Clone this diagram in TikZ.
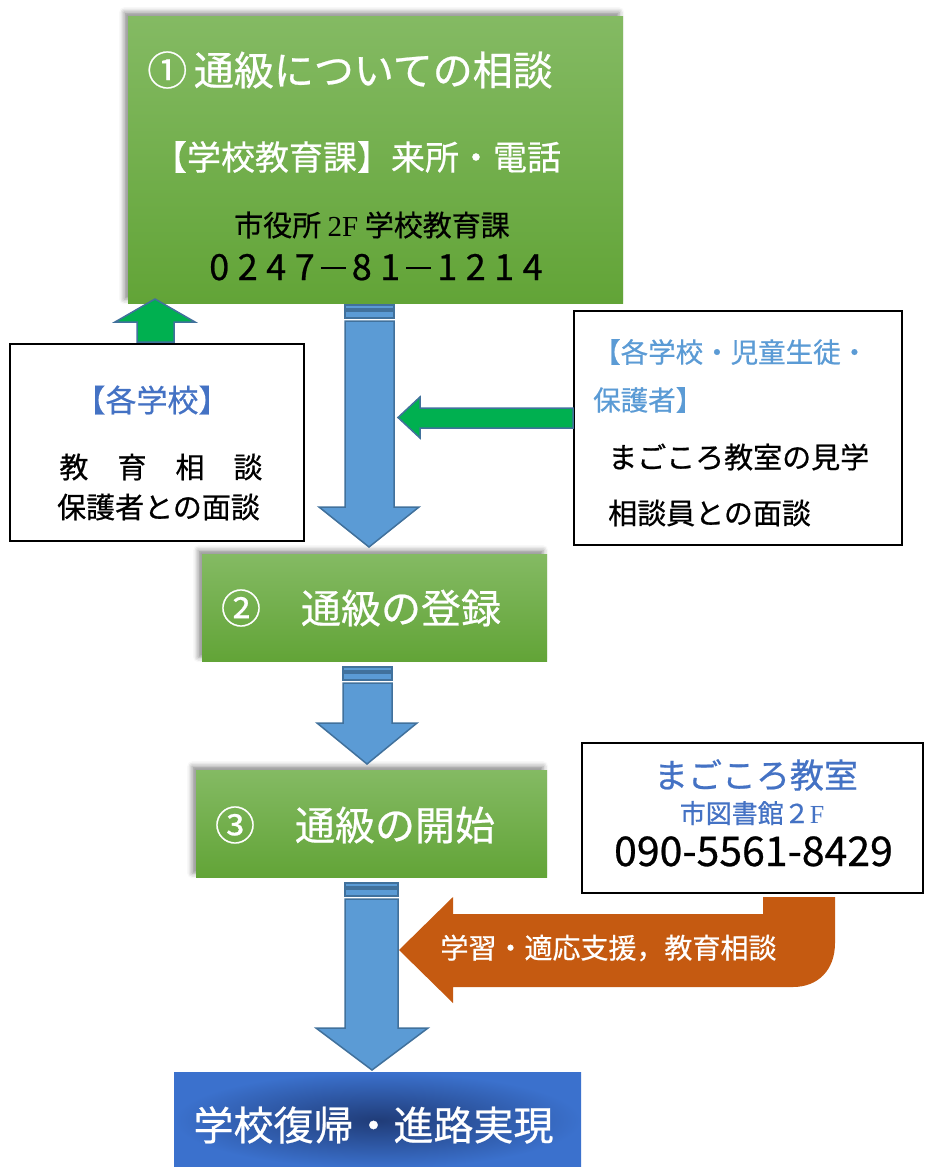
\documentclass[tikz,border=0pt]{standalone}
\usepackage{fontspec}
\setmainfont{Noto Sans CJK JP}[FakeBold=0.6]
\newfontfamily\serifpart{Liberation Serif}
\usetikzlibrary{shadows.blur}
\definecolor{gtop}{HTML}{84BA63}
\definecolor{gbot}{HTML}{62A437}
\definecolor{arrowblue}{HTML}{5B9BD5}
\definecolor{arrowedge}{HTML}{41719C}
\definecolor{greenarrow}{HTML}{00B050}
\definecolor{txtblue}{HTML}{4472C4}
\definecolor{lightblue}{HTML}{5B9BD5}
\definecolor{orangearrow}{HTML}{C55A11}
\definecolor{goaldark}{HTML}{203C78}
\definecolor{goalblue}{HTML}{3B71CD}
\newcommand\fsz[1]{\fontsize{#1}{#1}\selectfont}
\newcommand\cell[1]{\makebox[28.5pt]{#1}}
\newcommand\fwdash{\makebox[28.5pt]{\rule[11.5pt]{25pt}{2pt}}}
\newcommand\stripedarrow[7]{%
  \filldraw[bluearrow] (#1,#5) rectangle (#2,#5+4);
  \filldraw[bluearrow] (#1,#5+6) rectangle (#2,#5+13);
  \filldraw[bluearrow] (#1,#5+16) -- (#1,#6) -- (#3,#6) -- ({(#3+#4)/2},#7)
     -- (#4,#6) -- (#2,#6) -- (#2,#5+16) -- cycle;
}
\tikzset{
  greenbox/.style={rectangle, inner sep=0pt, anchor=north west, top color=gtop, bottom color=gbot,
    blur shadow={shadow xshift=-4pt, shadow yshift=4pt, shadow blur radius=5pt, shadow opacity=45}},
  infobox/.style={rectangle, inner sep=0pt, anchor=north west, draw=black, line width=1.5pt, fill=white},
  bluearrow/.style={fill=arrowblue, draw=arrowedge, line width=1.5pt, line join=miter},
  greenarr/.style={fill=greenarrow, draw=arrowedge, line width=1.5pt},
  wtxt/.style={text=white, inner sep=0pt},
  btxt/.style={text=black, inner sep=0pt},
}
\begin{document}
\begin{tikzpicture}[x=1pt,y=-1pt]
\useasboundingbox (0,0) rectangle (926,1167);

% boxes
\node[greenbox, minimum width=495pt, minimum height=287pt] (box1) at (128,16) {};
\node[greenbox, minimum width=345pt, minimum height=107pt] (box2) at (202,554) {};
\node[greenbox, minimum width=351pt, minimum height=107pt] (box3) at (196,770) {};
\node[rectangle, inner sep=0pt, anchor=north west, minimum width=407pt, minimum height=96pt,
      inner color=goaldark, outer color=goalblue] (goal) at (174,1072) {};
\node[infobox, minimum width=294pt, minimum height=197pt] (leftbox) at (9,343) {};
\node[infobox, minimum width=328pt, minimum height=234pt] (rightbox) at (573,310) {};
\node[infobox, minimum width=341pt, minimum height=150pt] (mbox) at (581,742) {};

% blue striped arrows
\stripedarrow{345}{394}{319}{419}{305}{507}{547}
\stripedarrow{343}{392}{317}{417}{667}{723}{764}
\stripedarrow{345}{398}{316}{428}{883}{1028}{1070}

% green arrows
\filldraw[greenarr] (137,342) -- (137,322) -- (115,322) -- (155,299) -- (195,322) -- (174,322) -- (174,342) -- cycle;
\filldraw[greenarr] (rightbox.west |- 0,428) -- (420,428) -- (420,438) -- (398,417.5) -- (420,397) -- (420,408) -- (rightbox.west |- 0,408) -- cycle;

% orange bent arrow
\fill[orangearrow] (399,950) -- (453,897) -- (453,914) -- (763,914) -- (763,897) -- (835,897) -- (835,943)
   .. controls (835,970) and (818,987) .. (793,987) -- (453,987) -- (453,1003) -- cycle;

% texts box1
\node[wtxt, font=\fsz{40}] (t1a) at (350,70) {①\,通級についての相談};
\node[wtxt, font=\fsz{34}] (t1b) at (357,157) {【学校教育課】来所・電話};
\node[btxt, font=\fsz{29}] (t1c) at (372,225) {市役所 {\serifpart 2F} 学校教育課};
\node[btxt, font=\fsz{36}, text height=26pt, text depth=0pt, anchor=base] (t1d) at (376,280)
  {\cell{0}\cell{2}\cell{4}\cell{7}\fwdash\cell{8}\cell{1}\fwdash\cell{1}\cell{2}\cell{1}\cell{4}};

% left box
\node[inner sep=0pt, text=txtblue, font=\fsz{31}] (l1) at (152,400) {【各学校】};
\node[btxt, font=\fsz{29}] (l2) at (161,467) {教　育　相　談};
\node[btxt, font=\fsz{29}] (l3) at (158.5,507) {保護者との面談};

% right box
\node[inner sep=0pt, text=lightblue, font=\fsz{27.5}, anchor=west] (r1) at (593,352) {【各学校・児童生徒・};
\node[inner sep=0pt, text=lightblue, font=\fsz{27.5}, anchor=west] (r2) at (593,400) {保護者】};
\node[btxt, font=\fsz{29}, anchor=west] (r3) at (608,457) {まごころ教室の見学};
\node[btxt, font=\fsz{29}, anchor=west] (r4) at (608,513) {相談員との面談};

% box2, box3, goal
\node[wtxt, font=\fsz{40}] (t2) at (361,608) {②　通級の登録};
\node[wtxt, font=\fsz{40}] (t3) at (355,825) {③　通級の開始};
\node[wtxt, font=\fsz{40}] (tg) at (373.5,1125) {学校復帰・進路実現};

% mbox
\node[inner sep=0pt, text=txtblue, font=\fsz{34}] (m1) at (756,775) {まごころ教室};
\node[inner sep=0pt, text=txtblue, font=\fsz{26}, text height=20pt, text depth=2pt, anchor=base] (m2) at (752,823) {市図書館２{\serifpart F}};
\node[btxt, font=\fsz{41}, text height=29pt, text depth=0pt, anchor=base] (m3) at (753.5,866) {090-5561-8429};

% orange text
\node[wtxt, font=\fsz{28}] (o1) at (608.5,948) {学習・適応支援，教育相談};
\end{tikzpicture}
\end{document}
